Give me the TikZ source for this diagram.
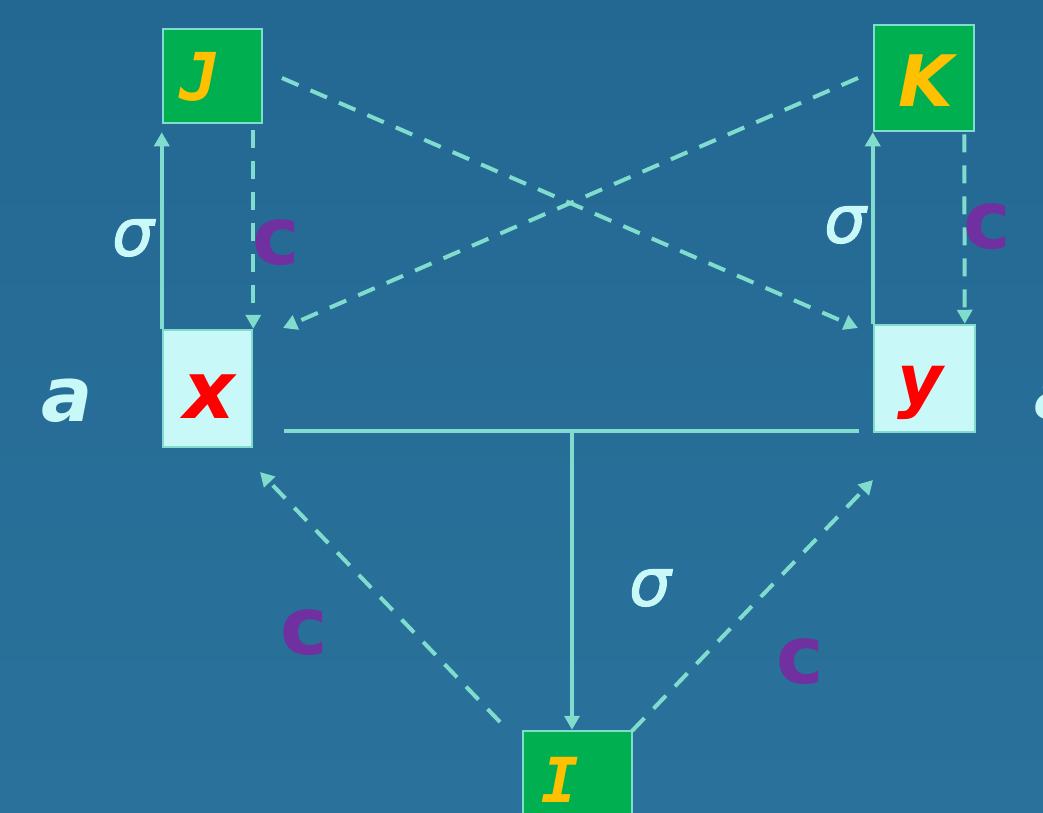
\documentclass[tikz,border=0pt]{standalone}
\usepackage{fontspec}
\setmainfont{DejaVu Sans}
\newfontfamily\monofam{DejaVu Sans Mono}
\newfontfamily\sigfam[FakeBold=1.6]{DejaVu Sans Oblique}
\usetikzlibrary{arrows.meta}
\definecolor{bgtop}{HTML}{236893}
\definecolor{bgbot}{HTML}{2A729B}
\definecolor{lnc}{HTML}{80DCCC}
\definecolor{pale}{HTML}{C8F8F8}
\definecolor{grn}{HTML}{00B050}
\definecolor{org}{HTML}{FFC000}
\definecolor{pur}{HTML}{7030A0}
\tikzset{
  conn/.style={draw=lnc, line width=4pt},
  dconn/.style={conn, dash pattern=on 18pt off 13pt},
  tip/.style={-{Triangle[length=14pt,width=15pt]}},
  gbox/.style={draw=lnc, line width=2.5pt, fill=grn, inner sep=0pt},
  pbox/.style={draw=lnc, line width=2.5pt, fill=pale, inner sep=0pt},
  ltr/.style={inner sep=0pt, font=\bfseries\itshape},
  sig/.style={inner sep=0pt, text=pale, font=\fontsize{66}{66}\selectfont\sigfam},
  cl/.style={inner sep=0pt, text=pur, font=\fontsize{80}{80}\selectfont\bfseries},
}
\begin{document}
\begin{tikzpicture}[x=1pt,y=-1pt]
\useasboundingbox (0,0) rectangle (1043,812);
\fill[top color=bgtop, bottom color=bgbot] (0,0) rectangle (1043,812);
% boxes
\node[gbox, minimum width=99pt, minimum height=94pt] (J) at (212.5,76) {};
\node[gbox, minimum width=100pt, minimum height=106pt] (K) at (924,78) {};
\node[pbox, minimum width=89pt, minimum height=117pt] (X) at (207.5,388.5) {};
\node[pbox, minimum width=101pt, minimum height=107pt] (Y) at (924.5,378.5) {};
\node[gbox, minimum width=109pt, minimum height=110pt] (I) at (577.5,786) {};
% box letters
\node[ltr, text=org, font=\fontsize{66}{66}\selectfont\monofam\bfseries\itshape] (Jt) at (199,77) {J};
\node[ltr, text=org, font=\fontsize{71}{71}\selectfont\bfseries\itshape] (Kt) at (926,81) {K};
\node[ltr, text=red, font=\fontsize{80}{80}\selectfont\bfseries\itshape] (Xt) at (209,397) {x};
\node[ltr, text=red, font=\fontsize{70}{70}\selectfont\bfseries\itshape] (Yt) at (920,393) {y};
\node[ltr, text=org, font=\fontsize{62}{62}\selectfont\monofam\bfseries\itshape] (It) at (560,780) {I};
% left pair
\draw[conn, tip] (X.north west) -- ([yshift=-8pt]J.south west);
\draw[dconn, tip] ([yshift=-6pt]J.south -| X.north east) -- (X.north east);
% right pair
\draw[conn, tip] (Y.north west) -- (K.south west);
\draw[dconn, tip] ([xshift=-11pt,yshift=-2pt]K.south east) -- ([xshift=-11.5pt]Y.north east);
% crossing diagonals
\coordinate (js) at (282,78);
\coordinate (ye) at (858,328);
\coordinate (ks) at (858,78);
\coordinate (xe) at (283,328);
\draw[dconn, tip] (js) -- (ye);
\draw[dconn, tip] (ks) -- (xe);
% join
\coordinate (hl) at (284,431);
\coordinate (hr) at (859,431);
\coordinate (hm) at (572,431);
\draw[conn] (hl) -- (hr);
\draw[conn, tip] (hm) -- (hm |- I.north);
% lower diagonals
\coordinate (ils) at (500,722);
\coordinate (xl) at (260,472);
\coordinate (irs) at (632,731);
\coordinate (yl) at (873,480);
\draw[dconn, tip] (ils) -- (xl);
\draw[dconn, tip] (irs) -- (yl);
% labels
\node[sig] (s1) at (133,238) {σ};
\node[sig] (s2) at (845,225) {σ};
\node[sig] (s3) at (650,588) {σ};
\node[cl] (c1) at (276,243) {c};
\node[cl] (c2) at (987,227) {c};
\node[cl] (c3) at (304,633) {c};
\node[cl] (c4) at (800,662) {c};
\node[ltr, text=pale, font=\fontsize{76}{76}\selectfont\bfseries\itshape] (a1) at (67,401) {a};
\node[ltr, text=pale, font=\fontsize{76}{76}\selectfont\bfseries\itshape, anchor=west] (a2) at (1034,398) {a};
\end{tikzpicture}
\end{document}
